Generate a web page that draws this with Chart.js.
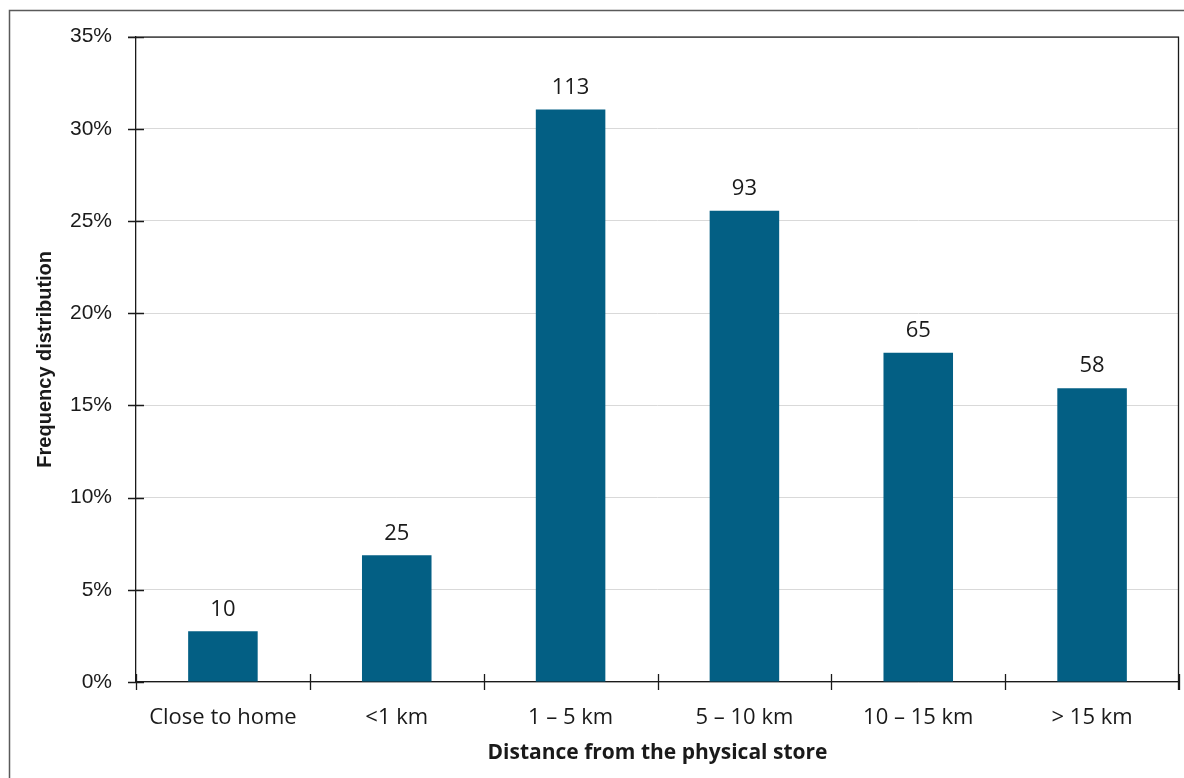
<!DOCTYPE html>
<html>
<head>
<meta charset="utf-8">
<script src="https://cdn.jsdelivr.net/npm/chart.js@4/dist/chart.umd.min.js"></script>
<style>
  html, body { margin: 0; padding: 0; background: #ffffff; }
  canvas { display: block; }
</style>
</head>
<body>
<canvas id="chart" width="1184" height="778"></canvas>
<script>
// Distance categories and the number of respondents in each
const categories = ['Close to home', '<1 km', '1 \u2013 5 km', '5 \u2013 10 km', '10 \u2013 15 km', '> 15 km'];
const respondentCounts = [10, 25, 113, 93, 65, 58];
const yTickValues = [0, 5, 10, 15, 20, 25, 30, 35];

// Each bar's height is its share of all respondents, in percent
const totalRespondents = respondentCounts.reduce((a, b) => a + b, 0);
const shares = respondentCounts.map(c => c / totalRespondents * 100);

const BAR_COLOR = '#035f84';
const TEXT_COLOR = '#1a1a1a';
const LABEL_FONT = '"Open Sans", "Noto Sans", sans-serif';
const TICK_FONT = '"Liberation Sans", Arial, sans-serif';

// Frame, crossing tick marks and count labels
const decorations = {
  id: 'decorations',
  afterDatasetsDraw(chart) {
    const ctx = chart.ctx;
    const meta = chart.getDatasetMeta(0);
    ctx.save();
    ctx.font = '22px ' + LABEL_FONT;
    ctx.fillStyle = TEXT_COLOR;
    ctx.textAlign = 'center';
    ctx.textBaseline = 'bottom';
    meta.data.forEach((bar, i) => {
      ctx.fillText(String(respondentCounts[i]), bar.x, bar.y - 11);
    });
    ctx.restore();
  },
  afterDraw(chart) {
    const ctx = chart.ctx;
    const area = chart.chartArea;
    const xs = chart.scales.x;
    const ys = chart.scales.y;
    ctx.save();
    // outer frame
    ctx.strokeStyle = '#5a5a5a';
    ctx.lineWidth = 1.5;
    ctx.strokeRect(9.5, 10.5, 1300, 900);

    ctx.strokeStyle = '#1a1a1a';
    ctx.lineWidth = 1.3;
    ctx.beginPath();
    // plot box top and right edges
    ctx.moveTo(area.left - 8, area.top + 0.5);
    ctx.lineTo(area.right, area.top + 0.5);
    ctx.moveTo(area.right - 0.5, area.top);
    ctx.lineTo(area.right - 0.5, area.bottom + 8);
    // y tick marks crossing the axis
    yTickValues.forEach(v => {
      const y = Math.round(ys.getPixelForValue(v)) + 0.5;
      ctx.moveTo(area.left - 8, y);
      ctx.lineTo(area.left + 8, y);
    });
    // x tick marks at category boundaries
    for (let i = 0; i <= categories.length; i++) {
      let x;
      if (i === 0) x = area.left;
      else if (i === categories.length) x = area.right;
      else x = (xs.getPixelForValue(i - 1) + xs.getPixelForValue(i)) / 2;
      x = Math.round(x) + 0.5;
      ctx.moveTo(x, area.bottom - 8);
      ctx.lineTo(x, area.bottom + 8);
    }
    ctx.stroke();
    ctx.restore();
  }
};

new Chart(document.getElementById('chart'), {
  type: 'bar',
  data: {
    labels: categories,
    datasets: [{
      data: shares,
      backgroundColor: BAR_COLOR,
      borderWidth: 0,
      barPercentage: 0.4,
      categoryPercentage: 1.0
    }]
  },
  options: {
    responsive: false,
    animation: false,
    devicePixelRatio: 1,
    layout: { padding: { left: 0, top: 34, right: 5, bottom: 0 } },
    plugins: {
      legend: { display: false },
      tooltip: { enabled: false }
    },
    scales: {
      x: {
        offset: true,
        grid: { display: true, drawOnChartArea: false, drawTicks: false },
        border: { display: true, color: '#1a1a1a', width: 1.3 },
        ticks: {
          color: TEXT_COLOR,
          font: { family: LABEL_FONT, size: 22 },
          padding: 23,
          maxRotation: 0,
          autoSkip: false
        },
        title: {
          display: true,
          text: 'Distance from the physical store',
          color: TEXT_COLOR,
          font: { family: LABEL_FONT, size: 21, weight: 'bold' },
          padding: { top: 0, bottom: 12 }
        },
        afterFit(scale) { scale.height = 96; }
      },
      y: {
        min: 0,
        max: 35,
        afterBuildTicks(scale) { scale.ticks = yTickValues.map(v => ({ value: v })); },
        grid: { color: '#d9d9d9', lineWidth: 1, drawTicks: false },
        border: { display: true, color: '#1a1a1a', width: 1.3 },
        ticks: {
          color: TEXT_COLOR,
          font: { family: TICK_FONT, size: 21 },
          padding: 24,
          callback: v => v + '%'
        },
        title: {
          display: true,
          text: 'Frequency distribution',
          color: TEXT_COLOR,
          font: { family: TICK_FONT, size: 20, weight: 'bold' },
          padding: { top: 33, bottom: 0 }
        },
        afterFit(scale) { scale.width = 136; }
      }
    }
  },
  plugins: [decorations]
});
</script>
</body>
</html>
